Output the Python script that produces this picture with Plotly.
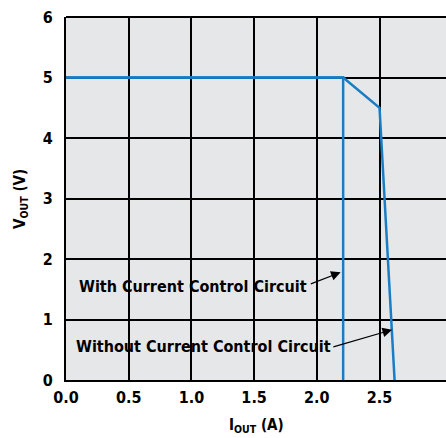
import plotly.graph_objects as go

# Data
with_ctrl_x = [0.0, 2.21, 2.21]
with_ctrl_y = [5.0, 5.0, 0.0]
without_ctrl_x = [0.0, 2.21, 2.5, 2.62]
without_ctrl_y = [5.0, 5.0, 4.5, 0.0]
x_ticks = [0.0, 0.5, 1.0, 1.5, 2.0, 2.5]
x_tick_labels = ["0.0", "0.5", "1.0", "1.5", "2.0", "2.5"]
y_ticks = [0, 1, 2, 3, 4, 5, 6]

FONT = "DejaVu Sans Condensed, sans-serif"
BLUE = "#1a7dc4"

fig = go.Figure()
fig.add_trace(go.Scatter(x=with_ctrl_x, y=with_ctrl_y, mode="lines",
                         line=dict(color=BLUE, width=2.5), showlegend=False))
fig.add_trace(go.Scatter(x=without_ctrl_x, y=without_ctrl_y, mode="lines",
                         line=dict(color=BLUE, width=2.5), showlegend=False))

# text labels
fig.add_annotation(x=0.09, y=1.55, xref="x", yref="y", text="<b>With Current Control Circuit</b>",
                   showarrow=False, xanchor="left", font=dict(family=FONT, size=16, color="black"))
fig.add_annotation(x=0.06, y=0.56, xref="x", yref="y", text="<b>Without Current Control Circuit</b>",
                   showarrow=False, xanchor="left", font=dict(family=FONT, size=16, color="black"))
# arrows
fig.add_annotation(x=2.19, y=1.78, ax=1.94, ay=1.58, xref="x", yref="y", axref="x", ayref="y",
                   text="", showarrow=True, arrowhead=2, arrowsize=1.6, arrowwidth=1.2, arrowcolor="black")
fig.add_annotation(x=2.60, y=0.83, ax=2.12, ay=0.54, xref="x", yref="y", axref="x", ayref="y",
                   text="", showarrow=True, arrowhead=2, arrowsize=1.6, arrowwidth=1.2, arrowcolor="black")

# axis titles
fig.add_annotation(x=0.5, y=-0.125, xref="paper", yref="paper", text="<b>I<sub>OUT</sub> (A)</b>",
                   showarrow=False, xanchor="center", yanchor="middle",
                   font=dict(family=FONT, size=15, color="black"))
fig.add_annotation(x=-0.12, y=0.5, xref="paper", yref="paper", text="<b>V<sub>OUT</sub> (V)</b>",
                   showarrow=False, xanchor="center", yanchor="middle", textangle=-90,
                   font=dict(family=FONT, size=15, color="black"))

fig.update_layout(
    width=446, height=438,
    margin=dict(l=66, r=0, t=17, b=58),
    plot_bgcolor="#e6e7e9", paper_bgcolor="white",
    font=dict(family=FONT, size=16, color="black"),
    xaxis=dict(range=[0, 3.03], tickvals=x_ticks, ticktext=["<b>%s</b>" % t for t in x_tick_labels],
               showgrid=True, gridcolor="black", gridwidth=2, zeroline=False, automargin=False,
               showline=True, linecolor="black", linewidth=2, mirror=False, ticks="",
               ticklabelstandoff=2),
    yaxis=dict(range=[0, 6], tickvals=y_ticks, ticktext=["<b>%d</b>" % v for v in y_ticks],
               showgrid=True, gridcolor="black", gridwidth=2, zeroline=False, automargin=False,
               showline=True, linecolor="black", linewidth=2, ticks="",
               ticklabelstandoff=8),
)
# top border
fig.add_shape(type="line", xref="paper", yref="paper", x0=0, x1=1, y0=1, y1=1,
              line=dict(color="black", width=2))

fig.write_html("out.html", config={"displayModeBar": False},
               post_script="document.body.style.margin='0';document.body.style.overflow='hidden';")
